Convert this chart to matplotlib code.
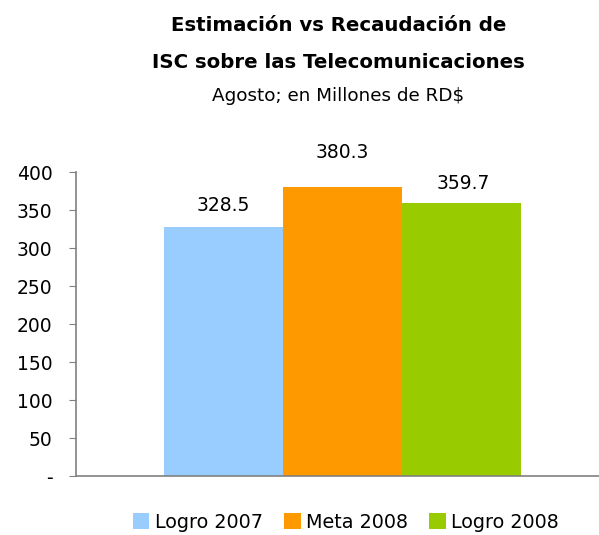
import matplotlib
matplotlib.use("Agg")
import matplotlib.pyplot as plt
from matplotlib.patches import Patch

series = ["Logro 2007", "Meta 2008", "Logro 2008"]
values = [328.5, 380.3, 359.7]
colors = ["#99CCFF", "#FF9900", "#99CC00"]
yticks = [0, 50, 100, 150, 200, 250, 300, 350, 400]
ytick_labels = ["-", "50", "100", "150", "200", "250", "300", "350", "400"]

plt.rcParams["font.family"] = "DejaVu Sans"

fig = plt.figure(figsize=(5.99, 5.35), dpi=100)
ax = fig.add_axes([0.127, 0.110, 0.873, 0.568])

pos = [-1, 0, 1]
ax.bar(pos, values, width=1.0, color=colors, edgecolor="none")
# label offsets (data units) as placed in the original
lift = [28, 46, 26]
nudge = [0, 0, 0.02]
for p, v, dy, dx in zip(pos, values, lift, nudge):
    ax.text(p + dx, v + dy, f"{v:.1f}", ha="center", va="center", fontsize=13.5)

ax.set_xlim(-2.24, 2.16)
ax.set_ylim(0, 400)
ax.set_yticks(yticks)
ax.set_yticklabels(ytick_labels, fontsize=13.5)
ax.set_xticks([])
for s in ("top", "right"):
    ax.spines[s].set_visible(False)
for s in ("left", "bottom"):
    ax.spines[s].set_color("#808080")
    ax.spines[s].set_linewidth(1.2)
ax.tick_params(axis="y", direction="out", length=5, color="#808080", pad=12)

fig.text(0.565, 0.952, "Estimación vs Recaudación de", ha="center", va="center",
         fontsize=14.2, fontweight="bold")
fig.text(0.565, 0.884, "ISC sobre las Telecomunicaciones", ha="center", va="center",
         fontsize=14.2, fontweight="bold")
fig.text(0.565, 0.820, "Agosto; en Millones de RD$", ha="center", va="center",
         fontsize=13.2)

handles = [Patch(facecolor=c, edgecolor="none") for c in colors]
fig.legend(handles, series, loc="center", bbox_to_anchor=(0.578, 0.024),
           ncol=3, frameon=False, fontsize=13.8, handlelength=0.85, handleheight=0.85,
           handletextpad=0.3, columnspacing=1.1)

fig.savefig("out.png", dpi=100)
